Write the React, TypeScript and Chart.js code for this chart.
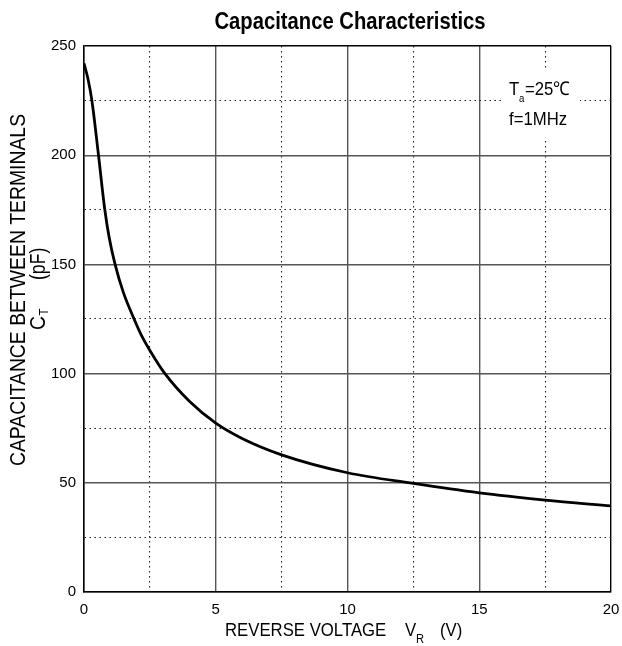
import React, { useEffect, useRef } from 'react';
import { Chart, registerables } from 'chart.js';

Chart.register(...registerables);

// Reverse voltage V_R (V)
const voltage = [0, 0.15, 0.3, 0.55, 0.79, 0.95, 1.18, 1.49, 1.9, 2.2, 2.53, 3.05, 4, 5, 6, 7.5, 10, 12.5, 15, 17.5, 20];
// Capacitance between terminals C_T (pF)
const capacitance = [242, 235, 225, 200, 175, 162.7, 150, 137.3, 125, 117, 110, 100.3, 87.3, 77.3, 70.3, 62.8, 54.6, 49.7, 45.4, 42.1, 39.4];

const xTickLabels = ['0', '5', '10', '15', '20'];
const yTickLabels = ['0', '50', '100', '150', '200', '250'];

const titleText = 'Capacitance Characteristics';
const xTitleMain = 'REVERSE VOLTAGE';
const xTitleSym = 'V';
const xTitleSub = 'R';
const xTitleUnit = '(V)';
const yTitleMain = 'CAPACITANCE BETWEEN TERMINALS';
const yTitleSym = 'C';
const yTitleSub = 'T';
const yTitleUnit = '(pF)';
const noteSym = 'T';
const noteSub = 'a';
const noteTemp = '=25\u2103';
const noteFreq = 'f=1MHz';

const FONT = "'Liberation Sans', Arial, Helvetica, sans-serif";
const SX = 0.88;

function drawText(
  ctx: CanvasRenderingContext2D,
  text: string,
  x: number,
  y: number,
  font: string,
  align: CanvasTextAlign = 'left',
  scaleX = SX,
  rotate = 0
) {
  ctx.save();
  ctx.translate(x, y);
  if (rotate) ctx.rotate(rotate);
  ctx.scale(scaleX, 1);
  ctx.font = font;
  ctx.fillStyle = '#000';
  ctx.textAlign = align;
  ctx.textBaseline = 'alphabetic';
  ctx.fillText(text, 0, 0);
  ctx.restore();
}

const isMajorX = (v: number) => xTickLabels.includes(String(v));
const isMajorY = (v: number) => yTickLabels.includes(String(v));

const textPlugin = {
  id: 'textPlugin',
  beforeDatasetsDraw(chart: any) {
    const ctx: CanvasRenderingContext2D = chart.ctx;
    const xs = chart.scales.x;
    const ys = chart.scales.y;
    // white box behind the note (interrupts the grid)
    const x1 = xs.getPixelForValue(15.86);
    const x2 = xs.getPixelForValue(18.82);
    const y1 = ys.getPixelForValue(239);
    const y2 = ys.getPixelForValue(208);
    ctx.save();
    ctx.fillStyle = '#fff';
    ctx.fillRect(x1, y1, x2 - x1, y2 - y1);
    ctx.restore();
  },
  afterDraw(chart: any) {
    const ctx: CanvasRenderingContext2D = chart.ctx;
    const { left, right, bottom } = chart.chartArea;
    const xs = chart.scales.x;
    const ys = chart.scales.y;

    // Title
    drawText(ctx, titleText, (left + right) / 2 + 2.5, 29, `bold 23px ${FONT}`, 'center');

    // X axis title
    const xb = bottom + 44;
    drawText(ctx, xTitleMain, left + 141, xb, `18px ${FONT}`, 'left', 0.93);
    drawText(ctx, xTitleSym, left + 321, xb, `18px ${FONT}`, 'left', 0.93);
    drawText(ctx, xTitleSub, left + 332, xb + 7, `12px ${FONT}`, 'left', 0.93);
    drawText(ctx, xTitleUnit, left + 356, xb, `18px ${FONT}`, 'left', 0.93);

    // Y axis title (rotated)
    const rot = -Math.PI / 2;
    drawText(ctx, yTitleMain, 25, 290, `22px ${FONT}`, 'center', SX, rot);
    drawText(ctx, yTitleSym, 45, 330, `22px ${FONT}`, 'left', SX, rot);
    drawText(ctx, yTitleSub, 48, 315.5, `13px ${FONT}`, 'left', SX, rot);
    drawText(ctx, yTitleUnit, 45, 280, `22px ${FONT}`, 'left', 0.8, rot);

    // Note
    const nx = xs.getPixelForValue(16.13);
    const nb1 = ys.getPixelForValue(227.6);
    const nb2 = ys.getPixelForValue(213.8);
    drawText(ctx, noteSym, nx, nb1, `19px ${FONT}`);
    drawText(ctx, noteSub, nx + 10, nb1 + 7, `11px ${FONT}`);
    drawText(ctx, noteTemp, nx + 16, nb1, `19px ${FONT}`);
    drawText(ctx, noteFreq, nx, nb2, `19px ${FONT}`);
  },
};

export default function App() {
  const ref = useRef<HTMLCanvasElement>(null);

  useEffect(() => {
    document.body.style.margin = '0';
    const canvas = ref.current;
    if (!canvas) return;
    const points = voltage.map((v, i) => ({ x: v, y: capacitance[i] }));

    const chart = new Chart(canvas, {
      type: 'line',
      data: {
        datasets: [
          {
            data: points,
            borderColor: '#000',
            borderWidth: 2.8,
            pointRadius: 0,
            fill: false,
            cubicInterpolationMode: 'monotone',
          },
        ],
      },
      options: {
        animation: false,
        responsive: false,
        layout: { padding: { top: 46, right: 11, bottom: 0, left: 0 } },
        plugins: {
          legend: { display: false },
          tooltip: { enabled: false },
          title: { display: false },
        },
        scales: {
          x: {
            type: 'linear',
            min: 0,
            max: 20,
            afterFit: (scale: any) => {
              scale.height = 54;
              scale.paddingLeft = 0;
              scale.paddingRight = 0;
            },
            ticks: {
              stepSize: 2.5,
              autoSkip: false,
              maxRotation: 0,
              padding: 9,
              color: '#000',
              font: { family: FONT, size: 15 },
              callback: (v: any) => (isMajorX(Number(v)) ? String(v) : ''),
            },
            grid: {
              drawTicks: false,
              color: (c: any) => {
                const v = c.tick ? c.tick.value : 0;
                if (v === 20) return '#000';
                return isMajorX(v) ? '#555' : '#222';
              },
              lineWidth: (c: any) => {
                const v = c.tick ? c.tick.value : 0;
                return isMajorX(v) ? 1.4 : 1.1;
              },
            },
            border: {
              display: true,
              color: '#000',
              width: 1.5,
              dash: (c: any) => {
                if (!c.tick) return [];
                return isMajorX(c.tick.value) ? [] : [1.5, 3.5];
              },
            },
          },
          y: {
            type: 'linear',
            min: 0,
            max: 250,
            afterFit: (scale: any) => {
              scale.width = 84;
            },
            ticks: {
              stepSize: 25,
              autoSkip: false,
              padding: 8,
              color: '#000',
              font: { family: FONT, size: 15 },
              callback: (v: any) => (isMajorY(Number(v)) ? String(v) : ''),
            },
            grid: {
              drawTicks: false,
              color: (c: any) => {
                const v = c.tick ? c.tick.value : 0;
                if (v === 250) return '#000';
                return isMajorY(v) ? '#555' : '#222';
              },
              lineWidth: (c: any) => {
                const v = c.tick ? c.tick.value : 0;
                return isMajorY(v) ? 1.4 : 1.1;
              },
            },
            border: {
              display: true,
              color: '#000',
              width: 1.5,
              dash: (c: any) => {
                if (!c.tick) return [];
                return isMajorY(c.tick.value) ? [] : [1.5, 3.5];
              },
            },
          },
        },
      },
      plugins: [textPlugin],
    } as any);

    return () => chart.destroy();
  }, []);

  return (
    <div style={{ width: 622, height: 646 }}>
      <canvas ref={ref} width={622} height={646} style={{ display: 'block' }} />
    </div>
  );
}
